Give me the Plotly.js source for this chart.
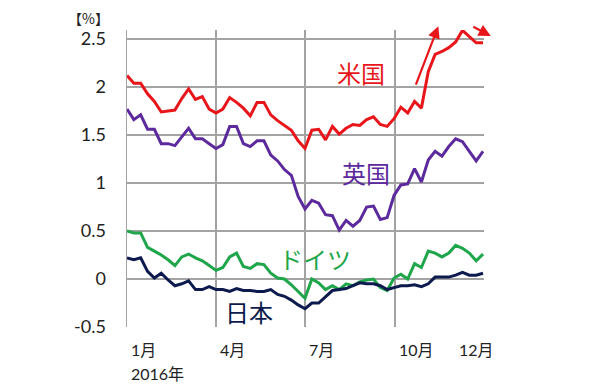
<!DOCTYPE html>
<html>
<head>
<meta charset="utf-8">
<script src="https://cdn.plot.ly/plotly-3.0.1.min.js"></script>
<style>html,body{margin:0;padding:0;background:#fff;}#chart{width:600px;height:390px;}</style>
</head>
<body>
<div id="chart"></div>
<script>
// Weekly dates, 2016
const dates = ['2016-01-01','2016-01-08','2016-01-15','2016-01-22','2016-01-29','2016-02-05','2016-02-12','2016-02-19','2016-02-26','2016-03-04','2016-03-11','2016-03-18','2016-03-25','2016-04-01','2016-04-08','2016-04-15','2016-04-22','2016-04-29','2016-05-06','2016-05-13','2016-05-20','2016-05-27','2016-06-03','2016-06-10','2016-06-17','2016-06-24','2016-07-01','2016-07-08','2016-07-15','2016-07-22','2016-07-29','2016-08-05','2016-08-12','2016-08-19','2016-08-26','2016-09-02','2016-09-09','2016-09-16','2016-09-23','2016-09-30','2016-10-07','2016-10-14','2016-10-21','2016-10-28','2016-11-04','2016-11-11','2016-11-18','2016-11-25','2016-12-02','2016-12-09','2016-12-16','2016-12-23','2016-12-30'];

const us = [2.12,2.04,2.04,1.93,1.85,1.74,1.75,1.76,1.88,1.98,1.87,1.90,1.77,1.73,1.77,1.89,1.84,1.78,1.70,1.84,1.84,1.71,1.65,1.60,1.55,1.44,1.36,1.55,1.56,1.45,1.59,1.51,1.57,1.61,1.60,1.66,1.69,1.61,1.59,1.67,1.79,1.73,1.85,1.78,2.16,2.34,2.37,2.41,2.47,2.59,2.52,2.46,2.46];
const uk = [1.77,1.66,1.71,1.56,1.56,1.41,1.41,1.39,1.48,1.57,1.46,1.46,1.41,1.36,1.40,1.59,1.59,1.41,1.38,1.44,1.44,1.29,1.23,1.14,1.08,0.86,0.73,0.82,0.79,0.67,0.66,0.51,0.61,0.55,0.61,0.75,0.76,0.62,0.64,0.87,0.98,0.99,1.15,1.01,1.24,1.33,1.28,1.38,1.46,1.43,1.33,1.23,1.33];
const de = [0.50,0.48,0.48,0.33,0.29,0.25,0.20,0.14,0.23,0.26,0.22,0.19,0.14,0.09,0.12,0.23,0.27,0.13,0.11,0.16,0.15,0.06,0.01,0.00,-0.06,-0.13,-0.20,0.00,-0.04,-0.11,-0.07,-0.11,-0.05,-0.07,-0.03,-0.01,0.00,-0.09,-0.12,0.01,0.05,0.00,0.16,0.12,0.29,0.27,0.23,0.27,0.35,0.32,0.27,0.19,0.26];
const jp = [0.22,0.20,0.22,0.08,0.01,0.06,-0.01,-0.07,-0.05,-0.02,-0.11,-0.11,-0.08,-0.11,-0.11,-0.13,-0.10,-0.12,-0.12,-0.13,-0.13,-0.11,-0.16,-0.18,-0.22,-0.27,-0.31,-0.25,-0.25,-0.19,-0.12,-0.11,-0.10,-0.07,-0.04,-0.05,-0.05,-0.07,-0.11,-0.09,-0.07,-0.07,-0.06,-0.08,-0.05,0.02,0.02,0.02,0.04,0.07,0.04,0.04,0.06];

const seriesNames = ['米国','英国','ドイツ','日本'];
const yTickVals = [-0.5,0,0.5,1,1.5,2,2.5];
const yTickText = ['-0.5','0','0.5','1','1.5','2','2.5'];
const xGridDates = ['2016-01-01','2016-04-01','2016-07-01','2016-10-01','2016-12-30 12:00'];
const monthLabelDates = ['2016-01-01','2016-04-01','2016-07-01','2016-10-01','2016-12-01'];
const monthLabels = ['1月','4月','7月','10月','12月'];
const yearLabel = '2016年';
const unitLabel = '【%】';

const colors = ['#e8161b','#5c2a9d','#1fa64b','#0c1a4e'];
const seriesData = [us, uk, de, jp];
// label positions (date, value)
const labelPos = [['2016-08-27',2.15],['2016-09-01',1.11],['2016-07-11',0.21],['2016-05-05',-0.34]];

const traces = seriesData.map((v,i)=>({
  x: dates, y: v, type:'scatter', mode:'lines', name: seriesNames[i],
  line:{color:colors[i], width:3}, hoverinfo:'skip'
}));

const F = 'Lato, "Noto Sans CJK JP", sans-serif';
const annotations = [];
seriesNames.forEach((n,i)=>{
  annotations.push({x:labelPos[i][0], y:labelPos[i][1], xref:'x', yref:'y', text:n, showarrow:false,
    font:{family:'"Noto Sans CJK JP", sans-serif', size:24, color:colors[i]}, xanchor:'center', yanchor:'middle'});
});
monthLabels.forEach((m,i)=>{
  annotations.push({x:monthLabelDates[i], y:0, xref:'x', yref:'paper', yshift:-22, xshift:2, text:m, showarrow:false,
    font:{family:F, size:16, color:'#222'}, xanchor:'left', yanchor:'middle'});
});
annotations.push({x:monthLabelDates[0], y:0, xref:'x', yref:'paper', yshift:-46, xshift:2, text:yearLabel, showarrow:false,
  font:{family:F, size:16, color:'#222'}, xanchor:'left', yanchor:'middle'});
annotations.push({x:0, y:1, xref:'paper', yref:'paper', xshift:-16, yshift:12, text:unitLabel, showarrow:false,
  font:{family:'"Noto Sans CJK JP", sans-serif', size:14, color:'#222'}, xanchor:'right', yanchor:'middle'});
// red arrows
annotations.push({x:0.872, y:1.013, xref:'paper', yref:'paper', ax:-23, ay:60, showarrow:true, text:'',
  arrowhead:2, arrowsize:1.1, arrowwidth:2.2, arrowcolor:'#e8161b'});
annotations.push({x:1.019, y:0.98, xref:'paper', yref:'paper', ax:-19, ay:-10, showarrow:true, text:'',
  arrowhead:2, arrowsize:1.1, arrowwidth:2.2, arrowcolor:'#e8161b'});

const layout = {
  width:600, height:390,
  margin:{l:127, r:116, t:30, b:63},
  paper_bgcolor:'#fff', plot_bgcolor:'#fff',
  showlegend:false,
  xaxis:{type:'date', range:['2016-01-01','2016-12-31'], tickvals:xGridDates, showticklabels:false,
    showgrid:true, gridcolor:'#a3a3a3', gridwidth:1.3, zeroline:false, showline:true, linecolor:'#fff', linewidth:2, ticks:''},
  yaxis:{range:[-0.5,2.594], tickvals:yTickVals, ticktext:yTickText, showgrid:true, gridcolor:'#a3a3a3', gridwidth:1.3,
    zeroline:false, showline:true, linecolor:'#a3a3a3', linewidth:1.5, ticks:'', ticklabelstandoff:16,
    tickfont:{family:F, size:18, color:'#222'}},
  annotations: annotations
};
Plotly.newPlot('chart', traces, layout, {displayModeBar:false, staticPlot:true});
</script>
</body>
</html>
